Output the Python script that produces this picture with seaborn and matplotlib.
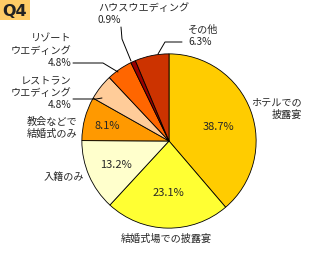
import matplotlib
matplotlib.use("Agg")
import matplotlib.pyplot as plt
import seaborn as sns
from matplotlib.patches import Rectangle

sns.set_style("white")
plt.rcParams['font.family'] = ['Noto Sans CJK JP', 'DejaVu Sans']

# Data
categories = ["ホテルでの\n披露宴", "結婚式場での披露宴", "入籍のみ", "教会などで\n結婚式のみ",
              "レストラン\nウエディング", "リゾート\nウエディング", "ハウスウエディング", "その他"]
values = [38.7, 23.1, 13.2, 8.1, 4.8, 4.8, 0.9, 6.3]
colors = ["#FFCC00", "#FFFF33", "#FFFFCC", "#FF9900", "#FFCC99", "#FF6600", "#990000", "#CC3300"]
title = "Q4"

W, H = 316, 254
fig = plt.figure(figsize=(W / 100, H / 100), dpi=100)

# pie axes: center (169,141), radius 88 px
cx, cy, r = 169, 141, 88
ax = fig.add_axes([(cx - r) / W, (H - cy - r) / H, 2 * r / W, 2 * r / H])
ax.pie(values, colors=colors, startangle=90, counterclock=False,
       wedgeprops=dict(edgecolor="black", linewidth=0.6))
ax.set_xlim(-1.01, 1.01)
ax.set_ylim(-1.01, 1.01)
ax.set_aspect("equal")
ax.axis("off")

# overlay axes in pixel coordinates
ov = fig.add_axes([0, 0, 1, 1], zorder=5)
ov.set_xlim(0, W)
ov.set_ylim(H, 0)
ov.axis("off")
ov.patch.set_alpha(0)

fs = 7.3
ls = 1.3
ov.add_patch(Rectangle((0, 0), 30, 20, facecolor="#FFCC66", edgecolor="none"))
ov.text(15, 11, title, ha="center", va="center", fontsize=11.5, fontweight="bold",
        family="DejaVu Sans", color="#222222")

def pct(v):
    return f"{v}%"

# inside labels
pfs = 8
ov.text(218, 127, pct(values[0]), ha="center", va="center", fontsize=pfs)
ov.text(168, 193, pct(values[1]), ha="center", va="center", fontsize=pfs)
ov.text(116, 165, pct(values[2]), ha="center", va="center", fontsize=pfs)
ov.text(107, 126, pct(values[3]), ha="center", va="center", fontsize=pfs)

# outside labels
ov.text(302, 109, categories[0], ha="right", va="center", fontsize=fs, linespacing=ls)
ov.text(166, 239, categories[1], ha="center", va="center", fontsize=fs)
ov.text(84, 177, categories[2], ha="right", va="center", fontsize=fs)
ov.text(77, 128, categories[3], ha="right", va="center", fontsize=fs, linespacing=ls)
ov.text(71, 93, categories[4] + "\n" + pct(values[4]), ha="right", va="center",
        fontsize=fs, linespacing=ls)
ov.text(71, 51, categories[5] + "\n" + pct(values[5]), ha="right", va="center",
        fontsize=fs, linespacing=ls)
ov.text(98, 14, categories[6] + "\n" + pct(values[6]), ha="left", va="center",
        fontsize=fs, linespacing=ls)
ov.text(188, 36, categories[7] + "\n" + pct(values[7]), ha="left", va="center",
        fontsize=fs, linespacing=ls)

# leader lines
lk = dict(color="black", linewidth=0.7)
ov.plot([121, 122, 131], [27, 39, 61], **lk)
ov.plot([182, 165, 158], [42, 42, 54], **lk)
ov.plot([73, 103, 118], [63, 63, 72], **lk)
ov.plot([73, 96, 102], [99, 99, 98], **lk)

fig.savefig("out.png", dpi=100)
